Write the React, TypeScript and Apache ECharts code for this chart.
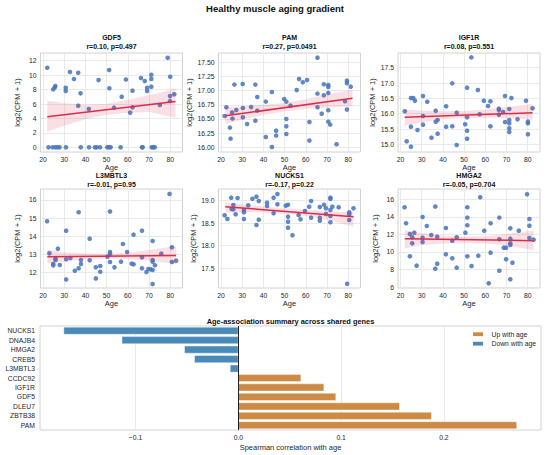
import React, { useEffect, useRef } from "react";
import * as echarts from "echarts";

// ---------- data ----------
const AGE_TICKS = [20, 30, 40, 50, 60, 70, 80];

const GDF5_POINTS = [
  [22.0, 11.03], [24.8, 8.03], [25.5, 8.3], [25.8, 8.5], [30.7, 8.26], [30.7, 7.8], [32.7, 10.43],
  [34.6, 9.46], [36.6, 10.34], [37.7, 7.48], [36.6, 5.77], [41.6, 5.31], [46.2, 9.32], [51.2, 10.7],
  [51.3, 8.17], [53.5, 5.49], [57.1, 7.0], [59.1, 9.4], [61.1, 4.8], [62.2, 7.85], [62.2, 5.54],
  [66.2, 9.6], [68.0, 9.18], [69.1, 8.26], [69.1, 7.8], [71.1, 10.06], [71.1, 9.46], [71.1, 8.4],
  [75.1, 5.86], [78.8, 12.4], [80.0, 9.78], [79.9, 7.1], [81.9, 7.34], [79.9, 6.4],
  [22.6, 0], [24.5, 0], [25.8, 0], [26.8, 0], [27.8, 0], [30.8, 0], [37.8, 0], [41.7, 0], [44.5, 0],
  [45.3, 0], [46.9, 0], [50.3, 0], [51.2, 0], [51.9, 0], [56.6, 0], [66.7, 0], [67.0, 0], [71.3, 0],
  [71.9, 0], [72.7, 0],
];
const GDF5_LINE = [[22, 4.25], [82.5, 6.35]];
const GDF5_BAND = [[22, 2.2, 6.5], [30, 3.0, 6.1], [40, 3.9, 5.9], [50, 4.5, 6.0], [60, 4.8, 6.6], [70, 4.9, 7.2], [82.5, 4.1, 8.1]];

const PAM_POINTS = [
  [21.7, 16.553], [22.5, 16.706], [24.2, 16.347], [24.5, 16.153], [25.2, 16.612], [25.4, 16.506],
  [26.3, 17.106], [27.2, 16.659], [30.2, 17.118], [30.3, 16.694], [30.3, 16.529], [32.3, 16.41],
  [34.2, 16.71], [36.2, 17.106], [36.2, 16.47], [37.1, 16.888], [37.1, 16.647], [41.1, 16.806],
  [41.1, 16.182], [44.0, 16.976], [44.0, 16.006], [46.0, 16.294], [46.0, 16.206], [49.8, 16.853],
  [50.8, 16.806], [50.8, 16.5], [50.8, 16.37], [50.8, 16.235], [52.8, 16.735], [55.7, 17.01],
  [56.8, 17.206], [58.6, 17.147], [60.6, 17.188], [61.7, 16.447], [61.7, 16.118], [65.5, 17.582],
  [65.5, 16.947], [65.5, 16.706], [67.5, 16.594], [68.5, 17.112], [68.5, 16.918], [70.6, 17.1],
  [70.6, 17.065], [70.6, 16.959], [70.6, 16.653], [70.6, 16.453], [71.5, 16.4], [74.5, 16.053],
  [78.5, 16.812], [79.4, 17.176], [79.4, 17.13], [79.4, 16.665], [81.2, 17.07],
];
const PAM_LINE = [[22, 16.555], [82, 16.865]];
const PAM_BAND = [[22, 16.41, 16.71], [30, 16.49, 16.72], [40, 16.57, 16.75], [50, 16.63, 16.78], [60, 16.68, 16.85], [70, 16.7, 16.93], [82, 16.73, 17.01]];

const IGF1R_POINTS = [
  [22.0, 16.076], [22.9, 15.098], [24.9, 15.576], [24.9, 16.51], [24.9, 14.924], [26.0, 16.51],
  [26.8, 16.424], [28.0, 15.467], [30.6, 16.576], [30.6, 15.924], [30.6, 15.641], [32.6, 16.391],
  [34.6, 15.217], [36.6, 16.098], [36.6, 15.739], [37.5, 15.793], [37.5, 15.348], [41.5, 16.239],
  [41.5, 15.576], [44.4, 16.989], [44.4, 15.587], [46.5, 16.033], [46.5, 14.978], [50.5, 15.652],
  [51.4, 16.848], [51.4, 15.88], [51.4, 15.446], [51.4, 15.185], [53.4, 17.837], [56.5, 16.772],
  [57.3, 15.978], [59.3, 16.424], [61.3, 16.25], [62.4, 16.402], [62.4, 15.587], [66.4, 16.163],
  [66.4, 16.12], [66.4, 15.967], [68.4, 16.054], [69.3, 16.576], [69.3, 15.728], [71.3, 16.152],
  [71.3, 15.793], [71.3, 15.685], [71.3, 15.522], [71.3, 15.402], [72.3, 16.51], [75.2, 15.815],
  [79.2, 16.424], [80.1, 15.739], [80.1, 15.685], [80.1, 15.326], [82.3, 16.174],
];
const IGF1R_LINE = [[22, 15.88], [82.3, 16.03]];
const IGF1R_BAND = [[22, 15.61, 16.14], [30, 15.71, 16.1], [40, 15.82, 16.08], [50, 15.86, 16.09], [60, 15.87, 16.14], [70, 15.86, 16.22], [82.3, 15.79, 16.32]];

const L3MBTL3_POINTS = [
  [21.9, 14.826], [23.0, 13.064], [24.8, 12.477], [24.8, 12.404], [25.9, 12.771], [25.9, 12.697],
  [27.0, 13.321], [27.9, 12.422], [30.9, 14.312], [30.9, 12.734], [30.9, 11.633], [32.9, 12.807],
  [35.0, 12.11], [36.8, 15.321], [36.8, 12.239], [37.9, 12.697], [37.9, 12.477], [42.0, 13.872],
  [42.0, 12.679], [44.9, 12.294], [44.9, 11.688], [47.0, 12.367], [47.0, 12.055], [50.4, 12.881],
  [51.6, 15.358], [51.6, 13.138], [51.6, 13.028], [51.6, 12.587], [53.7, 12.294], [56.8, 12.606],
  [57.7, 13.578], [59.7, 13.138], [61.8, 12.496], [62.7, 14.092], [62.7, 12.459], [66.7, 14.312],
  [66.7, 12.844], [66.7, 12.239], [68.8, 12.037], [69.7, 12.202], [70.8, 12.183], [71.7, 13.743],
  [71.7, 12.697], [71.7, 12.606], [71.7, 12.147], [71.7, 11.376], [72.8, 12.404], [75.8, 13.046],
  [79.7, 16.331], [80.8, 13.395], [80.8, 12.587], [82.8, 12.661],
];
const L3MBTL3_LINE = [[22, 12.88], [82.8, 12.95]];
const L3MBTL3_BAND = [[22, 12.52, 13.28], [30, 12.62, 13.13], [40, 12.74, 13.05], [50, 12.78, 13.03], [60, 12.76, 13.1], [70, 12.67, 13.25], [82.8, 12.48, 13.47]];

const NUCKS1_POINTS = [
  [21.7, 18.675], [23.0, 18.594], [24.8, 19.067], [25.0, 18.815], [25.8, 18.904], [25.8, 18.808],
  [26.9, 18.697], [27.8, 19.059], [30.8, 18.793], [30.8, 18.741], [30.8, 18.594], [32.8, 18.897],
  [34.8, 19.044], [36.7, 19.089], [36.7, 18.461], [37.8, 18.993], [37.8, 18.579], [41.7, 18.956],
  [41.7, 18.882], [44.8, 19.067], [44.8, 18.719], [46.6, 19.148], [46.6, 18.919], [50.5, 18.889],
  [51.6, 18.911], [51.6, 18.645], [51.6, 18.534], [51.6, 18.401], [53.7, 18.232], [56.6, 18.682],
  [57.5, 18.586], [59.6, 18.771], [61.6, 18.867], [62.5, 18.993], [62.5, 18.623], [66.6, 18.86],
  [66.6, 18.623], [66.6, 18.557], [68.6, 18.911], [69.5, 18.83], [69.5, 18.704], [71.6, 19.067],
  [71.6, 19.037], [71.6, 18.793], [71.6, 18.66], [71.6, 18.52], [72.5, 18.867], [75.5, 18.852],
  [79.5, 17.153], [80.5, 18.741], [80.5, 18.697], [80.5, 18.571], [82.5, 18.83],
];
const NUCKS1_LINE = [[22, 18.867], [82.5, 18.645]];
const NUCKS1_BAND = [[22, 18.74, 18.96], [30, 18.75, 18.92], [40, 18.74, 18.87], [50, 18.71, 18.83], [60, 18.66, 18.8], [70, 18.58, 18.77], [82.5, 18.42, 18.74]];

const HMGA2_POINTS = [
  [21.9, 15.087], [22.6, 13.262], [24.4, 12.045], [24.4, 9.498], [25.5, 11.665], [25.5, 10.98],
  [26.5, 12.197], [27.6, 8.433], [30.4, 13.984], [30.4, 11.627], [30.4, 11.133], [32.4, 12.958],
  [34.5, 11.931], [36.4, 15.163], [36.4, 8.091], [37.3, 11.741], [37.3, 8.661], [41.4, 12.73],
  [41.4, 9.726], [44.4, 11.285], [44.4, 9.27], [46.5, 11.665], [46.5, 8.205], [50.6, 12.197],
  [51.5, 15.087], [51.5, 13.908], [51.5, 13.034], [51.5, 9.498], [53.5, 8.395], [56.7, 9.574],
  [57.6, 16.228], [59.5, 12.425], [61.6, 6.418], [62.5, 13.262], [62.5, 9.916], [66.6, 13.908],
  [66.6, 11.437], [66.6, 7.863], [68.7, 10.486], [69.8, 10.486], [69.8, 9.156], [71.8, 12.691],
  [71.8, 11.513], [71.8, 10.98], [71.8, 10.79], [71.8, 6.874], [72.8, 8.776], [75.8, 12.425],
  [79.7, 16.57], [80.8, 13.756], [80.8, 12.996], [80.8, 11.589], [82.8, 11.399],
];
const HMGA2_LINE = [[22, 11.51], [82.8, 11.285]];
const HMGA2_BAND = [[22, 10.42, 12.46], [30, 10.75, 12.15], [40, 10.95, 11.85], [50, 11.0, 11.75], [60, 10.95, 11.8], [70, 10.72, 12.05], [82.8, 10.22, 12.43]];

const GENES = ["NUCKS1", "DNAJB4", "HMGA2", "CREB5", "L3MBTL3", "CCDC92", "IGF1R", "GDF5", "DLEU7", "ZBTB38", "PAM"];
const RHO = [-0.17, -0.1134, -0.0525, -0.0428, -0.0081, 0.061, 0.0834, 0.095, 0.157, 0.188, 0.271];
const RHO_TICKS = [-0.1, 0, 0.1, 0.2];

const PANELS = [
  { gene: "GDF5", stat: "r=0.10, p=0.497", points: GDF5_POINTS, line: GDF5_LINE, band: GDF5_BAND, yMin: -0.65, yMax: 13.07, yTicks: [0, 2, 4, 6, 8, 10, 12], dec: 0 },
  { gene: "PAM", stat: "r=0.27, p=0.0491", points: PAM_POINTS, line: PAM_LINE, band: PAM_BAND, yMin: 15.917, yMax: 17.664, yTicks: [16, 16.25, 16.5, 16.75, 17, 17.25, 17.5], dec: 2 },
  { gene: "IGF1R", stat: "r=0.08, p=0.551", points: IGF1R_POINTS, line: IGF1R_LINE, band: IGF1R_BAND, yMin: 14.75, yMax: 17.98, yTicks: [15, 15.5, 16, 16.5, 17, 17.5], dec: 1 },
  { gene: "L3MBTL3", stat: "r=-0.01, p=0.95", points: L3MBTL3_POINTS, line: L3MBTL3_LINE, band: L3MBTL3_BAND, yMin: 11.16, yMax: 16.6, yTicks: [12, 13, 14, 15, 16], dec: 0 },
  { gene: "NUCKS1", stat: "r=-0.17, p=0.22", points: NUCKS1_POINTS, line: NUCKS1_LINE, band: NUCKS1_BAND, yMin: 17.06, yMax: 19.26, yTicks: [17.5, 18, 18.5, 19], dec: 1 },
  { gene: "HMGA2", stat: "r=-0.05, p=0.704", points: HMGA2_POINTS, line: HMGA2_LINE, band: HMGA2_BAND, yMin: 5.89, yMax: 17.17, yTicks: [6, 8, 10, 12, 14, 16], dec: 0 },
];

// ---------- style / layout ----------
const FONT = "Liberation Sans, Arial, Helvetica, sans-serif";
const TXT = "#262626";
const GRID_LINE = "#e4e4e4";
const FRAME = "#d2d2d2";
const DOT = "#4a78bd";
const RED = "#d52f4d";
const UP = "#cd8a45";
const DOWN = "#4a8ab8";
const LEFTS = [40.5, 218.5, 398];
const TOPS = [53, 189];
const PW = 142;
const PH = 99;

function buildOption() {
  const grid: any[] = [];
  const xAxis: any[] = [];
  const yAxis: any[] = [];
  const series: any[] = [];
  const graphic: any[] = [];

  graphic.push({
    type: "text", x: 275, y: 8,
    style: { text: "Healthy muscle aging gradient", fontSize: 9.5, fontWeight: "bold", fontFamily: FONT, fill: "#111", align: "center", verticalAlign: "middle" },
  });

  PANELS.forEach((p, i) => {
    const col = i % 3;
    const row = Math.floor(i / 3);
    const left = LEFTS[col];
    const top = TOPS[row];
    grid.push({ left, top, width: PW, height: PH, show: true, borderColor: FRAME, borderWidth: 1, backgroundColor: "transparent", containLabel: false });
    xAxis.push({
      type: "value", gridIndex: i, min: 18.8, max: 85.8,
      name: "Age", nameLocation: "middle", nameGap: 11,
      nameTextStyle: { fontSize: 7.5, color: TXT, fontFamily: FONT },
      axisLine: { show: false }, axisTick: { show: false, customValues: AGE_TICKS },
      axisLabel: { customValues: AGE_TICKS, fontSize: 6.8, color: TXT, fontFamily: FONT, margin: 4 },
      splitLine: { show: true, lineStyle: { color: GRID_LINE, width: 0.8 } },
    });
    yAxis.push({
      type: "value", gridIndex: i, min: p.yMin, max: p.yMax,
      name: "log2(CPM + 1)", nameLocation: "middle", nameGap: 19, nameRotate: 90,
      nameTextStyle: { fontSize: 7.5, color: TXT, fontFamily: FONT },
      axisLine: { show: false }, axisTick: { show: false, customValues: p.yTicks },
      axisLabel: { customValues: p.yTicks, fontSize: 6.8, color: TXT, fontFamily: FONT, margin: 4, formatter: (v: number) => v.toFixed(p.dec) },
      splitLine: { show: true, lineStyle: { color: GRID_LINE, width: 0.8 } },
    });
    series.push({
      type: "scatter", xAxisIndex: i, yAxisIndex: i, data: p.points, symbolSize: 4.6, z: 2,
      itemStyle: { color: DOT, opacity: 0.88 }, silent: true,
    });
    const band = p.band;
    series.push({
      type: "custom", xAxisIndex: i, yAxisIndex: i, data: band, z: 3, silent: true,
      encode: { x: 0, y: [1, 2] },
      renderItem: (params: any, api: any) => {
        if (params.dataIndex !== 0) return null;
        const up = band.map((b) => api.coord([b[0], b[2]]));
        const lo = band.map((b) => api.coord([b[0], b[1]])).reverse();
        return { type: "polygon", shape: { points: up.concat(lo) }, style: { fill: "rgba(220,30,70,0.14)", stroke: "none" } };
      },
    });
    series.push({
      type: "line", xAxisIndex: i, yAxisIndex: i, data: p.line, symbol: "none", z: 4, silent: true,
      lineStyle: { color: RED, width: 1.5 },
    });
    const cx = left + PW / 2;
    const gy = row === 0 ? 37.5 : 175.5;
    graphic.push({
      type: "text", x: cx, y: gy,
      style: { text: p.gene, fontSize: 7, fontWeight: "bold", fontFamily: FONT, fill: "#111", align: "center", verticalAlign: "middle" },
    });
    graphic.push({
      type: "text", x: cx, y: gy + 8.5,
      style: { text: p.stat, fontSize: 7, fontWeight: "bold", fontFamily: FONT, fill: "#111", align: "center", verticalAlign: "middle" },
    });
  });

  // bar chart
  const bi = PANELS.length;
  grid.push({ left: 40, top: 326, width: 501, height: 104, show: true, borderColor: FRAME, borderWidth: 1, backgroundColor: "transparent" });
  xAxis.push({
    type: "value", gridIndex: bi, min: -0.193, max: 0.2945,
    name: "Spearman correlation with age", nameLocation: "middle", nameGap: 13,
    nameTextStyle: { fontSize: 7.5, color: TXT, fontFamily: FONT },
    axisLine: { show: false }, axisTick: { show: false, customValues: RHO_TICKS },
    axisLabel: {
      customValues: RHO_TICKS, fontSize: 6.8, color: TXT, fontFamily: FONT, margin: 4,
      formatter: (v: number) => (v < 0 ? "\u2212" + Math.abs(v).toFixed(1) : v.toFixed(1)),
    },
    splitLine: { show: true, lineStyle: { color: GRID_LINE, width: 0.8 } },
  });
  yAxis.push({
    type: "category", gridIndex: bi, data: GENES, inverse: true,
    axisLine: { show: false }, axisTick: { show: false },
    axisLabel: { fontSize: 6.8, color: TXT, fontFamily: FONT, margin: 5 },
    splitLine: { show: false },
  });
  series.push({
    type: "bar", name: "Up with age", xAxisIndex: bi, yAxisIndex: bi,
    data: RHO.map((v) => (v > 0 ? v : "-")), barCategoryGap: "20%", barGap: "-100%",
    itemStyle: { color: UP, borderColor: "#fff", borderWidth: 0.4 }, silent: true, z: 2,
    markLine: {
      silent: true, symbol: "none", label: { show: false },
      lineStyle: { color: "#222", width: 1, type: "solid" },
      data: [{ xAxis: 0 }],
    },
  });
  series.push({
    type: "bar", name: "Down with age", xAxisIndex: bi, yAxisIndex: bi,
    data: RHO.map((v) => (v < 0 ? v : "-")), barCategoryGap: "20%", barGap: "-100%",
    itemStyle: { color: DOWN, borderColor: "#fff", borderWidth: 0.4 }, silent: true, z: 2,
  });
  graphic.push({
    type: "text", x: 290.5, y: 321,
    style: { text: "Age-association summary across shared genes", fontSize: 7.4, fontWeight: "bold", fontFamily: FONT, fill: "#111", align: "center", verticalAlign: "middle" },
  });
  // legend
  graphic.push({ type: "rect", shape: { x: 473, y: 332.3, width: 10, height: 3.8 }, style: { fill: UP } });
  graphic.push({ type: "rect", shape: { x: 473, y: 341.8, width: 10, height: 3.8 }, style: { fill: DOWN } });
  graphic.push({
    type: "text", x: 491.5, y: 334.2,
    style: { text: "Up with age", fontSize: 6.8, fontFamily: FONT, fill: TXT, align: "left", verticalAlign: "middle" },
  });
  graphic.push({
    type: "text", x: 491.5, y: 343.7,
    style: { text: "Down with age", fontSize: 6.8, fontFamily: FONT, fill: TXT, align: "left", verticalAlign: "middle" },
  });

  return {
    animation: false,
    backgroundColor: "#ffffff",
    textStyle: { fontFamily: FONT },
    grid, xAxis, yAxis, series, graphic,
  };
}

export default function App() {
  const ref = useRef<HTMLDivElement>(null);
  useEffect(() => {
    if (!ref.current) return;
    const chart = echarts.init(ref.current, null, { renderer: "svg" });
    chart.setOption(buildOption() as any);
    return () => chart.dispose();
  }, []);
  return <div ref={ref} style={{ position: "fixed", left: 0, top: 0, width: 550, height: 455 }} />;
}
